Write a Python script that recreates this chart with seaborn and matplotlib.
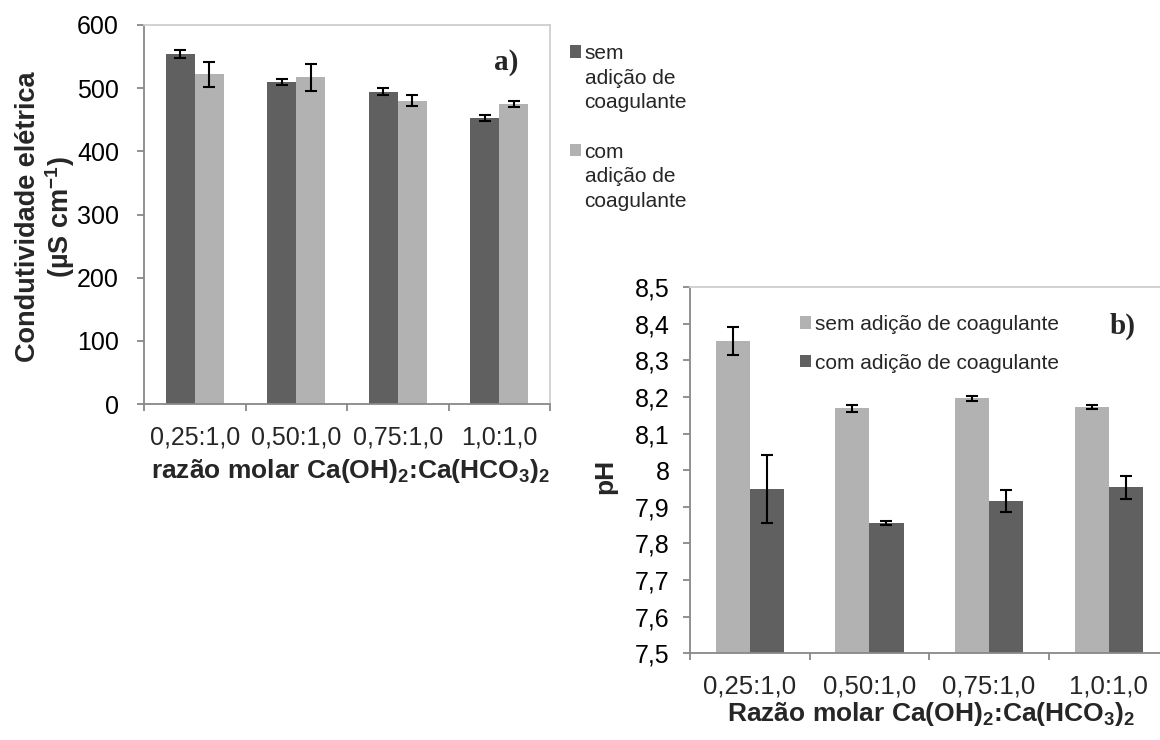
import numpy as np
import pandas as pd
import seaborn as sns
import matplotlib
matplotlib.use("Agg")
import matplotlib.pyplot as plt
from matplotlib.patches import Patch

# ---------------- data ----------------
categories = ["0,25:1,0", "0,50:1,0", "0,75:1,0", "1,0:1,0"]

# panel a: electrical conductivity (µS cm-1)
cond_sem = [554, 510, 494, 453]
cond_sem_err = [6, 5, 5.5, 5]
cond_com = [522, 517, 480, 475]
cond_com_err = [19.5, 21.5, 9, 5]

# panel b: pH
ph_sem = [8.353, 8.169, 8.196, 8.172]
ph_sem_err = [0.039, 0.010, 0.006, 0.006]
ph_com = [7.949, 7.856, 7.916, 7.953]
ph_com_err = [0.093, 0.006, 0.031, 0.031]

lab_sem = "sem adição de coagulante"
lab_com = "com adição de coagulante"

cond_yticks = [0, 100, 200, 300, 400, 500, 600]
ph_yticks = [7.5, 7.6, 7.7, 7.8, 7.9, 8.0, 8.1, 8.2, 8.3, 8.4, 8.5]

DARK = "#606060"
LIGHT = "#b2b2b2"
SPINE = "#888888"
SPINE_LIGHT = "#cfcfcf"

sns.set_theme(style="white")
plt.rcParams["font.family"] = ["Liberation Sans", "DejaVu Sans"]
plt.rcParams["mathtext.fontset"] = "custom"
plt.rcParams["mathtext.rm"] = "Liberation Sans"
plt.rcParams["mathtext.bf"] = "Liberation Sans:bold"
plt.rcParams["mathtext.it"] = "Liberation Sans:italic"

W, H = 1160, 740
fig = plt.figure(figsize=(W / 100, H / 100), dpi=100)


def px_axes(left, top, right, bottom):
    return fig.add_axes([left / W, 1 - bottom / H, (right - left) / W, (bottom - top) / H])


ax_a = px_axes(144, 25, 550, 404)
ax_b = px_axes(690, 287, 1168.5, 653.3)

# ---------- panel a ----------
df_a = pd.DataFrame({
    "cat": categories * 2,
    "val": cond_sem + cond_com,
    "grp": [lab_sem] * 4 + [lab_com] * 4,
})
sns.barplot(data=df_a, x="cat", y="val", hue="grp", hue_order=[lab_sem, lab_com],
            palette=[DARK, LIGHT], width=0.57, gap=0, errorbar=None,
            saturation=1, linewidth=0, ax=ax_a, legend=False)
for cont, err in zip(ax_a.containers, [cond_sem_err, cond_com_err]):
    xs = [p.get_x() + p.get_width() / 2 for p in cont.patches]
    ys = [p.get_height() for p in cont.patches]
    ax_a.errorbar(xs, ys, yerr=err, fmt="none", ecolor="black",
                  elinewidth=1.5, capsize=4.5, capthick=1.5, zorder=5)

ax_a.set_ylim(0, 600)
ax_a.set_xlim(-0.5, 3.5)
ax_a.set_yticks(cond_yticks)
ax_a.set_yticklabels([str(v) for v in cond_yticks])

# ---------- panel b ----------
df_b = pd.DataFrame({
    "cat": categories * 2,
    "val": ph_sem + ph_com,
    "grp": [lab_sem] * 4 + [lab_com] * 4,
})
sns.barplot(data=df_b, x="cat", y="val", hue="grp", hue_order=[lab_sem, lab_com],
            palette=[LIGHT, DARK], width=0.57, gap=0, errorbar=None,
            saturation=1, linewidth=0, ax=ax_b, legend=False)
for cont, err in zip(ax_b.containers, [ph_sem_err, ph_com_err]):
    xs = [p.get_x() + p.get_width() / 2 for p in cont.patches]
    ys = [p.get_height() for p in cont.patches]
    ax_b.errorbar(xs, ys, yerr=err, fmt="none", ecolor="black",
                  elinewidth=1.5, capsize=4.5, capthick=1.5, zorder=5)

ax_b.set_ylim(7.5, 8.5)
ax_b.set_xlim(-0.5, 3.5)
ax_b.set_yticks(ph_yticks)
ax_b.set_yticklabels(["{:g}".format(round(v, 1)).replace(".", ",") for v in ph_yticks])

# ---------- common axis styling ----------
for ax, ypad, xfs in ((ax_a, 13, 18), (ax_b, 9.5, 18.5)):
    ax.set_xlabel("")
    ax.set_ylabel("")
    for s in ("left", "bottom"):
        ax.spines[s].set_color(SPINE)
        ax.spines[s].set_linewidth(1.3)
        ax.spines[s].set_visible(True)
    for s in ("top", "right"):
        ax.spines[s].set_color(SPINE_LIGHT)
        ax.spines[s].set_linewidth(1.3)
        ax.spines[s].set_visible(True)
    # category boundaries as major ticks, labels as minor ticks
    ax.set_xticks([-0.5, 0.5, 1.5, 2.5, 3.5])
    ax.set_xticklabels([])
    ax.set_xticks([0, 1, 2, 3], minor=True)
    ax.set_xticklabels(categories, minor=True, fontsize=xfs)
    ax.tick_params(axis="x", which="major", bottom=True, direction="out",
                   length=5, width=1.3, color=SPINE)
    ax.tick_params(axis="x", which="minor", bottom=True, length=0, pad=15.5)
    ax.tick_params(axis="y", left=True, direction="out", length=5, width=1.3,
                   color=SPINE, labelsize=18, pad=ypad)
    for t in ax.get_yticklabels():
        t.set_color("black")

# ---------- labels ----------
ax_a.set_ylabel("Condutividade elétrica\n(µS cm$^{\\mathbf{-1}}$)", fontsize=19.5,
                fontweight="bold", linespacing=1.1)
ax_a.yaxis.set_label_coords((46 - 144) / 406, (404 - 217) / 379)
ax_a.yaxis.label.set_va("center")

ax_a.set_xlabel("razão molar Ca(OH)$_\\mathbf{2}$:Ca(HCO$_\\mathbf{3}$)$_\\mathbf{2}$",
                fontsize=19, fontweight="bold")
ax_a.xaxis.set_label_coords((351 - 144) / 406, (404 - 471) / 379)
ax_a.xaxis.label.set_va("center")

ax_b.set_ylabel("pH", fontsize=19, fontweight="bold")
ax_b.yaxis.set_label_coords((605 - 690) / 478.5, (653.3 - 476) / 366.7)
ax_b.yaxis.label.set_va("center")

ax_b.set_xlabel("Razão molar Ca(OH)$_\\mathbf{2}$:Ca(HCO$_\\mathbf{3}$)$_\\mathbf{2}$",
                fontsize=19, fontweight="bold")
ax_b.xaxis.set_label_coords((931 - 690) / 478.5, (653.3 - 714) / 366.7)
ax_b.xaxis.label.set_va("center")

# panel letters
fig.text(506 / W, 1 - 63 / H, "a)", fontsize=21, fontweight="bold",
         family=["Liberation Serif"], ha="center", va="center")
fig.text(1123 / W, 1 - 326 / H, "b)", fontsize=21, fontweight="bold",
         family=["Liberation Serif"], ha="center", va="center")

# ---------- legends ----------
blank = Patch(facecolor="none", edgecolor="none")
h_a = [Patch(facecolor=DARK, edgecolor="none"), blank, blank, blank,
       Patch(facecolor=LIGHT, edgecolor="none"), blank, blank]
l_a = ["sem", "adição de", "coagulante", " ", "com", "adição de", "coagulante"]
leg_a = ax_a.legend(h_a, l_a, loc="upper left", bbox_to_anchor=(570 / W, 1 - 44 / H),
                    bbox_transform=fig.transFigure, frameon=False, fontsize=15,
                    handlelength=0.55, handleheight=0.55, handletextpad=0.15,
                    labelspacing=0.27, borderpad=0, borderaxespad=0)

h_b = [Patch(facecolor=LIGHT, edgecolor="none"), Patch(facecolor=DARK, edgecolor="none")]
leg_b = ax_b.legend(h_b, [lab_sem, lab_com], loc="upper left",
                    bbox_to_anchor=(800 / W, 1 - 315 / H), bbox_transform=fig.transFigure,
                    frameon=False, fontsize=15, handlelength=0.55, handleheight=0.55,
                    handletextpad=0.15, labelspacing=0.94, borderpad=0, borderaxespad=0)

fig.savefig("out.png", dpi=100)
